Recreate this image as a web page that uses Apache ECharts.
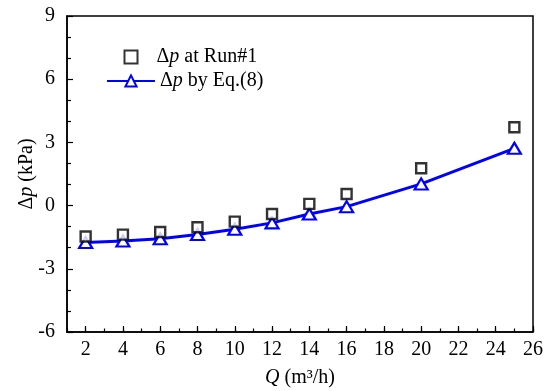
<!DOCTYPE html>
<html><head><meta charset="utf-8">
<script src="https://cdn.jsdelivr.net/npm/echarts@6/dist/echarts.min.js"></script>
<style>html,body{margin:0;padding:0;background:#fff}#c{width:551px;height:391px}</style>
</head><body><div id="c"></div>
<script>
var qValues = [2, 4, 6, 8, 10, 12, 14, 16, 20, 25];
var runValues = [-1.47, -1.38, -1.25, -1.03, -0.76, -0.40, 0.08, 0.55, 1.77, 3.72];
var eqValues = [-1.75, -1.68, -1.57, -1.37, -1.12, -0.82, -0.40, -0.05, 1.03, 2.72];
var xTickLabels = [2, 4, 6, 8, 10, 12, 14, 16, 18, 20, 22, 24, 26];
var yTickLabels = [-6, -3, 0, 3, 6, 9];

var FONT = '"Liberation Serif", "Times New Roman", serif';
var FS = 20;
function pairs(xs, ys) { return xs.map(function (x, i) { return [x, ys[i]]; }); }
var richI = { i: { fontStyle: 'italic', fontFamily: FONT, fontSize: FS, color: '#000' } };

var chart = echarts.init(document.getElementById('c'), null, { renderer: 'canvas' });
chart.setOption({
  animation: false,
  backgroundColor: '#fff',
  grid: { left: 67, right: 18, top: 16, bottom: 59, outerBoundsMode: 'none', containLabel: false,
    show: true, borderColor: '#000', borderWidth: 1.5, backgroundColor: 'transparent' },
  xAxis: [{
    type: 'value', min: 1, max: 26, position: 'bottom',
    name: '{i|Q} (m³/h)', nameLocation: 'middle', nameGap: 36, nameMoveOverlap: false,
    nameTextStyle: { fontFamily: FONT, fontSize: FS, color: '#000', rich: richI },
    axisLine: { show: true, onZero: false, lineStyle: { color: '#000', width: 1.5 } },
    axisTick: { show: true, inside: true, length: 6, customValues: xTickLabels, lineStyle: { color: '#000', width: 1.2 } },
    axisLabel: { customValues: xTickLabels, fontFamily: FONT, fontSize: FS, color: '#000', margin: 8 },
    splitLine: { show: false }
  }, {
    type: 'value', min: 1, max: 26, interval: 1, position: 'bottom',
    axisLine: { show: false, onZero: false },
    axisTick: { show: true, inside: true, length: 3.5, lineStyle: { color: '#000', width: 1.2 } },
    axisLabel: { show: false },
    splitLine: { show: false }
  }],
  yAxis: {
    type: 'value', min: -6, max: 9, interval: 3,
    name: 'Δ{i|p} (kPa)', nameLocation: 'middle', nameGap: 30, nameMoveOverlap: false,
    nameTextStyle: { fontFamily: FONT, fontSize: FS, color: '#000', rich: richI },
    axisLine: { show: true, onZero: false, lineStyle: { color: '#000', width: 1.5 } },
    axisTick: { show: true, inside: true, length: 6, lineStyle: { color: '#000', width: 1.2 } },
    minorTick: { show: true, splitNumber: 3, length: 4, lineStyle: { color: '#000', width: 1.2 } },
    axisLabel: { fontFamily: FONT, fontSize: FS, color: '#000', margin: 12,
      formatter: function (v) { return yTickLabels.indexOf(v) >= 0 ? String(v) : ''; } },
    splitLine: { show: false }
  },
  legend: [{
    orient: 'vertical', left: 123.5, top: 47, padding: 0, itemWidth: 13, itemHeight: 13,
    textStyle: { fontFamily: FONT, fontSize: FS, color: '#000', padding: [0, 0, 0, 14], rich: richI },
    formatter: function () { return 'Δ{i|p} at Run#1'; },
    data: ['run']
  }, {
    orient: 'vertical', left: 106, top: 71, padding: 0, itemWidth: 48, itemHeight: 14,
    textStyle: { fontFamily: FONT, fontSize: FS, color: '#000', rich: richI },
    formatter: function () { return 'Δ{i|p} by Eq.(8)'; },
    data: ['eq']
  }],
  series: [{
    name: 'eq', type: 'line', xAxisIndex: 0, data: pairs(qValues, eqValues),
    symbol: 'triangle', symbolSize: [13, 11], showAllSymbol: true,
    lineStyle: { color: '#0000ff', width: 3 },
    itemStyle: { color: '#fff', borderColor: '#0000ff', borderWidth: 2.2 },
    z: 2
  }, {
    name: 'run', type: 'scatter', xAxisIndex: 0, data: pairs(qValues, runValues),
    symbol: 'rect', symbolSize: 10,
    itemStyle: { color: '#fff', borderColor: '#000', borderWidth: 2.4 },
    z: 3
  }]
});
</script></body></html>
